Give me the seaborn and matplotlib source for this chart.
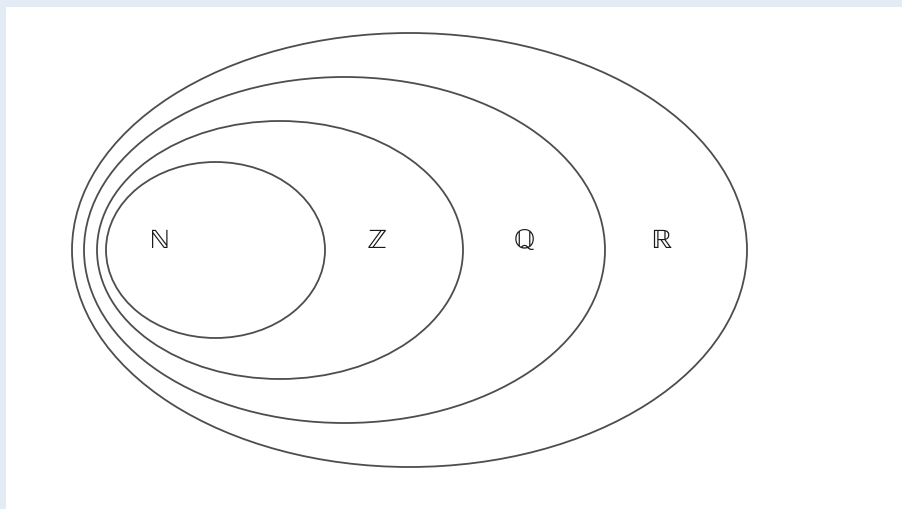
import matplotlib
matplotlib.use('Agg')
import matplotlib.pyplot as plt
from matplotlib.patches import Ellipse
import seaborn as sns

# nested number sets, outermost last
SET_LABELS = ['\u2115', '\u2124', '\u211a', '\u211d']
CENTER_X = [215.5, 280, 344.5, 409.5]
CENTER_Y = [251, 251, 251, 251]
WIDTHS = [219, 366, 521, 675]
HEIGHTS = [176, 258, 346, 434]
LABEL_X = [160, 377, 524, 661]
LABEL_Y = [241, 241, 241, 241]

sns.set_theme(style='white')

fig = plt.figure(figsize=(9.02, 5.10), dpi=100)
fig.patch.set_facecolor('#e3ecf5')
ax = fig.add_axes([6 / 902, 0, 896 / 902, 502 / 510])
ax.set_facecolor('white')
ax.set_xlim(6, 902)
ax.set_ylim(510, 8)
ax.set_axis_off()
ax.add_patch(plt.Rectangle((6, 8), 896, 502, color='white', zorder=0))

for cx, cy, w, h in zip(CENTER_X, CENTER_Y, WIDTHS, HEIGHTS):
    ax.add_patch(Ellipse((cx, cy), w, h, fill=False, edgecolor='#4d4d4d', linewidth=1.3))

for lab, x, y in zip(SET_LABELS, LABEL_X, LABEL_Y):
    ax.text(x, y, lab, ha='center', va='center', fontsize=20, color='#1a1a1a',
            family=['STIXGeneral', 'DejaVu Serif'])

fig.savefig('out.png', dpi=100, facecolor=fig.get_facecolor())
